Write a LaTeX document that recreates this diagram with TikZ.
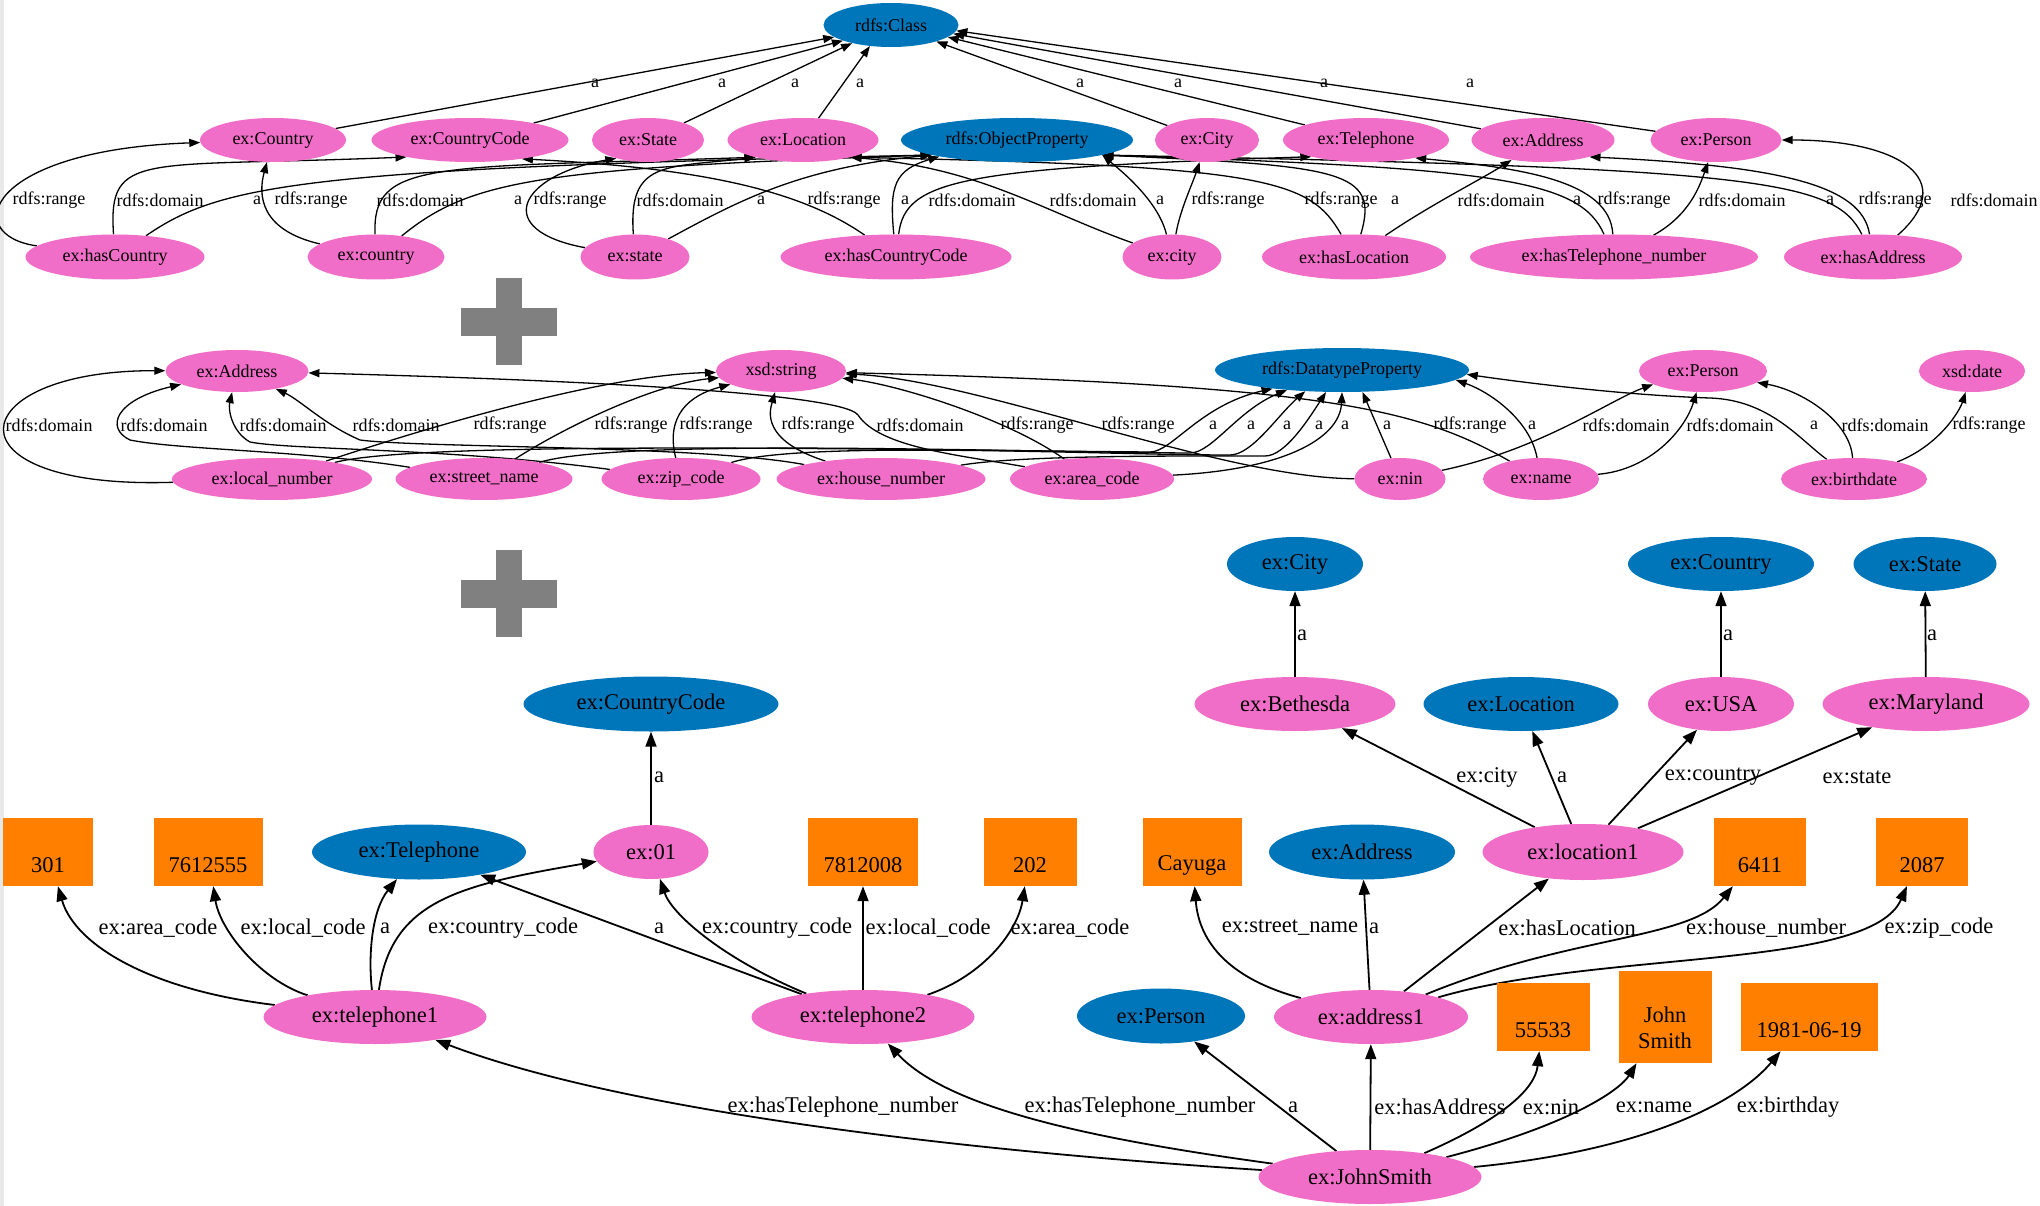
\documentclass[tikz,border=0pt]{standalone}
\usepackage{fontspec}
\setmainfont{Liberation Serif}
\usetikzlibrary{shapes.geometric,arrows.meta}
\definecolor{pinkc}{HTML}{F06EC8}
\definecolor{bluec}{HTML}{0076BA}
\definecolor{orangec}{HTML}{FF7F00}
\definecolor{plusc}{HTML}{808080}
\pgfdeclarelayer{bg}
\pgfdeclarelayer{edges}
\pgfsetlayers{bg,edges,main}
% literal values sit a little below the middle of their boxes
\newcommand{\boxlow}[1]{\raisebox{-13pt}[\height][\depth]{#1}}
\tikzset{
  fs/.style={font=\fontsize{18}{21}\selectfont},
  fl/.style={font=\fontsize{22.5}{26}\selectfont},
  pk/.style={ellipse, fill=pinkc, inner sep=0pt},
  bu/.style={ellipse, fill=bluec, inner sep=0pt},
  lit/.style={rectangle, fill=orangec, inner sep=0pt, minimum height=68},
  eT/.style={draw, line width=1.3pt, -{Triangle[length=11pt,width=8pt]}},
  eB/.style={draw, line width=1.8pt, -{Triangle[length=15pt,width=11pt]}},
  lbT/.style={fs, inner sep=0pt},
  lbB/.style={fl, inner sep=0pt},
}
\begin{document}
\begin{tikzpicture}[x=1pt,y=-1pt]
\useasboundingbox (0,0) rectangle (2040,1206);
\begin{pgfonlayer}{bg}
  \fill[white] (0,0) rectangle (2040,1206);
  \fill[gray!18] (0,0) rectangle (4,1206);
  % the two plus signs between the three graphs
  \fill[plusc] (496,278) rectangle (522,365);
  \fill[plusc] (461,308) rectangle (557,336);
  \fill[plusc] (496,550) rectangle (522,637);
  \fill[plusc] (461,580) rectangle (557,608);
\end{pgfonlayer}

% ---------------- object property schema ----------------
\node[bu,fs,minimum width=135,minimum height=44] (tClass) at (891,25) {rdfs:Class};
\node[pk,fs,minimum width=146,minimum height=44] (tCountry) at (273,140) {ex:Country};
\node[pk,fs,minimum width=197,minimum height=44] (tCountryCode) at (470,140) {ex:CountryCode};
\node[pk,fs,minimum width=112,minimum height=44] (tState) at (648,140) {ex:State};
\node[pk,fs,minimum width=151,minimum height=44] (tLocation) at (803,140) {ex:Location};
\node[bu,fs,minimum width=232,minimum height=44] (tOP) at (1017,140) {rdfs:ObjectProperty};
\node[pk,fs,minimum width=104,minimum height=44] (tCity) at (1207,140) {ex:City};
\node[pk,fs,minimum width=166,minimum height=44] (tTelephone) at (1366,140) {ex:Telephone};
\node[pk,fs,minimum width=143,minimum height=44] (tAddress) at (1543,140) {ex:Address};
\node[pk,fs,minimum width=131,minimum height=44] (tPerson) at (1716,140) {ex:Person};

\node[pk,fs,minimum width=179,minimum height=45] (nHasCountry) at (115,257) {ex:hasCountry};
\node[pk,fs,minimum width=137,minimum height=45] (nCountry) at (376,257) {ex:country};
\node[pk,fs,minimum width=109,minimum height=45] (nState) at (635,257) {ex:state};
\node[pk,fs,minimum width=231,minimum height=45] (nHasCountryCode) at (896,257) {ex:hasCountryCode};
\node[pk,fs,minimum width=99,minimum height=45] (nCity) at (1172,257) {ex:city};
\node[pk,fs,minimum width=184,minimum height=45] (nHasLocation) at (1354,257) {ex:hasLocation};
\node[pk,fs,minimum width=288,minimum height=45] (nHasTel) at (1614,257) {ex:hasTelephone\_number};
\node[pk,fs,minimum width=178,minimum height=45] (nHasAddress) at (1873,257) {ex:hasAddress};

% ---------------- datatype property schema ----------------
\node[pk,fs,minimum width=143,minimum height=42] (mAddress) at (237,371) {ex:Address};
\node[pk,fs,minimum width=130,minimum height=42] (mString) at (781,371) {xsd:string};
\node[bu,fs,minimum width=254,minimum height=44] (mDP) at (1342,370) {rdfs:DatatypeProperty};
\node[pk,fs,minimum width=128,minimum height=42] (mPerson) at (1703,371) {ex:Person};
\node[pk,fs,minimum width=106,minimum height=42] (mDate) at (1972,371) {xsd:date};
\node[pk,fs,minimum width=200,minimum height=42] (mLocal) at (272,479) {ex:local\_number};
\node[pk,fs,minimum width=177,minimum height=42] (mStreet) at (484,479) {ex:street\_name};
\node[pk,fs,minimum width=159,minimum height=42] (mZip) at (681,479) {ex:zip\_code};
\node[pk,fs,minimum width=209,minimum height=42] (mHouse) at (881,479) {ex:house\_number};
\node[pk,fs,minimum width=164,minimum height=42] (mArea) at (1092,479) {ex:area\_code};
\node[pk,fs,minimum width=91,minimum height=42] (mNin) at (1400,479) {ex:nin};
\node[pk,fs,minimum width=116,minimum height=42] (mName) at (1541,479) {ex:name};
\node[pk,fs,minimum width=146,minimum height=42] (mBirth) at (1854,479) {ex:birthdate};

% ---------------- instance data ----------------
\node[bu,fl,minimum width=255,minimum height=55] (bCountryCode) at (651,704) {ex:CountryCode};
\node[bu,fl,minimum width=136,minimum height=54] (bCity) at (1295,564) {ex:City};
\node[bu,fl,minimum width=186,minimum height=54] (bCountry) at (1721,564) {ex:Country};
\node[bu,fl,minimum width=143,minimum height=54] (bState) at (1925,564) {ex:State};
\node[pk,fl,minimum width=201,minimum height=54] (bBethesda) at (1295,704) {ex:Bethesda};
\node[bu,fl,minimum width=195,minimum height=54] (bLocation) at (1521,704) {ex:Location};
\node[pk,fl,minimum width=146,minimum height=54] (bUSA) at (1721,704) {ex:USA};
\node[pk,fl,minimum width=207,minimum height=54] (bMaryland) at (1926,704) {ex:Maryland};
\node[pk,fl,minimum width=201,minimum height=56] (bLoc1) at (1583,852) {ex:location1};
\node[lit,fl,minimum width=90] (v301) at (48,852) {\boxlow{301}};
\node[lit,fl,minimum width=109] (v7612555) at (208,852) {\boxlow{7612555}};
\node[bu,fl,minimum width=214,minimum height=55] (bTelephone) at (419,852) {ex:Telephone};
\node[pk,fl,minimum width=115,minimum height=54] (ex01) at (651,852) {ex:01};
\node[lit,fl,minimum width=110] (v7812008) at (863,852) {\boxlow{7812008}};
\node[lit,fl,minimum width=93] (v202) at (1030,852) {\boxlow{202}};
\node[lit,fl,minimum width=99] (vCayuga) at (1192,852) {\boxlow{Cayuga}};
\node[bu,fl,minimum width=186,minimum height=55] (bAddress) at (1362,852) {ex:Address};
\node[lit,fl,minimum width=92] (v6411) at (1760,852) {\boxlow{6411}};
\node[lit,fl,minimum width=92] (v2087) at (1922,852) {\boxlow{2087}};
\node[pk,fl,minimum width=223,minimum height=54] (tel1) at (375,1017) {ex:telephone1};
\node[pk,fl,minimum width=223,minimum height=54] (tel2) at (863,1017) {ex:telephone2};
\node[bu,fl,minimum width=168,minimum height=55] (bPerson) at (1161,1016) {ex:Person};
\node[pk,fl,minimum width=194,minimum height=54] (addr1) at (1371,1017) {ex:address1};
\node[lit,fl,minimum width=93] (v55533) at (1543,1017) {\boxlow{55533}};
\node[lit,fl,minimum width=93,minimum height=92] (vJohnSmith) at (1665,1017) {\boxlow{\begin{tabular}{@{}c@{}}John\\Smith\end{tabular}}};
\node[lit,fl,minimum width=137] (v1981) at (1809,1017) {\boxlow{1981-06-19}};
\node[pk,fl,minimum width=223,minimum height=54] (js) at (1370,1177) {ex:JohnSmith};

\begin{pgfonlayer}{edges}
% classes
\draw[eT] (tCountry) -- (tClass.192) node[lbT] at (595,83) {a};
\draw[eT] (tCountryCode) -- (tClass.198) node[lbT] at (722,83) {a};
\draw[eT] (tState) -- (tClass.205) node[lbT] at (795,83) {a};
\draw[eT] (tLocation) -- (tClass.225) node[lbT] at (860,83) {a};
\draw[eT] (tCity) -- (tClass.-20) node[lbT] at (1080,83) {a};
\draw[eT] (tTelephone) -- (tClass.-12) node[lbT] at (1178,83) {a};
\draw[eT] (tAddress) -- (tClass.-8) node[lbT] at (1324,83) {a};
\draw[eT] (tPerson) -- (tClass.-5) node[lbT] at (1470,83) {a};
% object properties
\draw[eT] (nHasCountry) .. controls (-40,235) and (-15,150) .. (tCountry) node[lbT] at (49,200) {rdfs:range};
\draw[eT] (nHasCountry) .. controls (108,150) and (140,168) .. (tCountryCode.195) node[lbT] at (160,200) {rdfs:domain};
\draw[eT] (nHasCountry) .. controls (220,185) and (300,168) .. (tOP.190) node[lbT] at (257,200) {a};
\draw[eT] (nCountry) .. controls (260,230) and (258,195) .. (tCountry) node[lbT] at (311,200) {rdfs:range};
\draw[eT] (nCountry) .. controls (372,160) and (430,168) .. (tLocation.200) node[lbT] at (420,200) {rdfs:domain};
\draw[eT] (nCountry) .. controls (470,180) and (540,168) .. (tOP.190) node[lbT] at (518,200) {a};
\draw[eT] (nState) .. controls (490,230) and (520,175) .. (tState.210) node[lbT] at (570,200) {rdfs:range};
\draw[eT] (nState) .. controls (628,160) and (665,168) .. (tLocation.200) node[lbT] at (680,200) {rdfs:domain};
\draw[eT] (nState) .. controls (740,200) and (800,168) .. (tOP.190) node[lbT] at (761,200) {a};
\draw[eT] (nHasCountryCode) .. controls (800,190) and (700,168) .. (tCountryCode.-20) node[lbT] at (844,200) {rdfs:range};
\draw[eT] (nHasCountryCode) .. controls (889,185) and (895,170) .. (tOP.192) node[lbT] at (905,200) {a};
\draw[eT] (nHasCountryCode) .. controls (905,180) and (960,168) .. (tTelephone.197) node[lbT] at (972,200) {rdfs:domain};
\draw[eT] (nCity) .. controls (1040,210) and (980,168) .. (tLocation.-20) node[lbT] at (1093,200) {rdfs:domain};
\draw[eT] (nCity) .. controls (1158,200) and (1120,170) .. (tOP.-10) node[lbT] at (1160,200) {a};
\draw[eT] (nCity) .. controls (1180,210) and (1192,185) .. (tCity) node[lbT] at (1228,200) {rdfs:range};
\draw[eT] (nHasLocation) .. controls (1310,180) and (1270,166) .. (tLocation.-20) node[lbT] at (1341,200) {rdfs:range};
\draw[eT] (nHasLocation) .. controls (1380,170) and (1340,166) .. (tOP.-10) node[lbT] at (1395,200) {a};
\draw[eT] (nHasLocation) .. controls (1430,205) and (1480,180) .. (tAddress) node[lbT] at (1501,200) {rdfs:domain};
\draw[eT] (nHasTel) .. controls (1580,180) and (1500,168) .. (tOP.-10) node[lbT] at (1577,200) {a};
\draw[eT] (nHasTel) .. controls (1610,180) and (1520,168) .. (tTelephone.-20) node[lbT] at (1634,200) {rdfs:range};
\draw[eT] (nHasTel) .. controls (1690,215) and (1700,185) .. (tPerson) node[lbT] at (1742,200) {rdfs:domain};
\draw[eT] (nHasAddress) .. controls (1835,180) and (1760,168) .. (tOP.-10) node[lbT] at (1830,200) {a};
\draw[eT] (nHasAddress) .. controls (1862,185) and (1780,166) .. (tAddress.-20) node[lbT] at (1895,200) {rdfs:range};
\draw[eT] (nHasAddress) .. controls (1960,180) and (1900,140) .. (tPerson) node[lbT] at (1994,200) {rdfs:domain};

% datatype properties
\draw[eT] (mLocal) .. controls (-60,490) and (-40,370) .. (mAddress) node[lbT] at (49,425) {rdfs:domain};
\draw[eT] (mStreet) .. controls (300,450) and (180,450) .. (130,440) .. controls (105,428) and (115,400) .. (mAddress) node[lbT] at (164,425) {rdfs:domain};
\draw[eT] (mZip) .. controls (450,448) and (290,450) .. (250,442) .. controls (232,432) and (228,410) .. (mAddress) node[lbT] at (283,425) {rdfs:domain};
\draw[eT] (mHouse) .. controls (700,445) and (420,448) .. (360,440) .. controls (325,425) and (300,400) .. (mAddress) node[lbT] at (396,425) {rdfs:domain};
\draw[eT] (mArea) .. controls (960,455) and (880,448) .. (858,415) .. controls (840,390) and (500,378) .. (mAddress) node[lbT] at (920,425) {rdfs:domain};
\draw[eT] (mLocal) .. controls (420,430) and (600,375) .. (mString) node[lbT] at (510,425) {rdfs:range};
\draw[eT] (mStreet) .. controls (560,430) and (650,385) .. (mString) node[lbT] at (631,425) {rdfs:range};
\draw[eT] (mZip) .. controls (665,415) and (690,395) .. (mString) node[lbT] at (716,425) {rdfs:range};
\draw[eT] (mHouse) .. controls (760,440) and (770,410) .. (mString) node[lbT] at (818,425) {rdfs:range};
\draw[eT] (mArea) .. controls (1010,420) and (900,385) .. (mString) node[lbT] at (1037,425) {rdfs:range};
\draw[eT] (mNin) .. controls (1220,478) and (980,380) .. (mString) node[lbT] at (1138,425) {rdfs:range};
\draw[eT] (mName) .. controls (1420,410) and (1330,385) .. (mString) node[lbT] at (1470,425) {rdfs:range};
\draw[eT] (mLocal) .. controls (420,440) and (900,450) .. (1150,452) .. controls (1172,452) and (1200,405) .. (mDP.195) node[lbT] at (1213,425) {a};
\draw[eT] (mStreet) .. controls (620,438) and (1000,452) .. (1190,453) .. controls (1212,453) and (1238,410) .. (mDP.200) node[lbT] at (1251,425) {a};
\draw[eT] (mZip) .. controls (800,440) and (1100,455) .. (1230,455) .. controls (1252,455) and (1278,415) .. (mDP.210) node[lbT] at (1287,425) {a};
\draw[eT] (mHouse) .. controls (1020,455) and (1180,456) .. (1265,456) .. controls (1285,456) and (1308,420) .. (mDP.234) node[lbT] at (1319,425) {a};
\draw[eT] (mArea) .. controls (1280,470) and (1340,440) .. (mDP.270) node[lbT] at (1345,425) {a};
\draw[eT] (mNin) -- (mDP.313) node[lbT] at (1387,425) {a};
\draw[eT] (mName) .. controls (1530,420) and (1490,392) .. (mDP.-5) node[lbT] at (1532,425) {a};
\draw[eT] (mBirth) .. controls (1800,440) and (1770,400) .. (1710,398) .. controls (1620,395) and (1520,382) .. (mDP.-2) node[lbT] at (1814,425) {a};
\draw[eT] (mNin) .. controls (1540,450) and (1610,400) .. (mPerson.195) node[lbT] at (1626,425) {rdfs:domain};
\draw[eT] (mName) .. controls (1650,470) and (1685,430) .. (mPerson) node[lbT] at (1730,425) {rdfs:domain};
\draw[eT] (mBirth) .. controls (1850,420) and (1800,390) .. (mPerson.-12) node[lbT] at (1885,425) {rdfs:domain};
\draw[eT] (mBirth) .. controls (1940,445) and (1960,410) .. (mDate) node[lbT] at (1989,425) {rdfs:range};

% instance data
\draw[eB] (tel1) .. controls (150,990) and (75,945) .. (v301) node[lbB] at (158,928) {ex:area\_code};
\draw[eB] (tel1) .. controls (260,980) and (220,930) .. (v7612555) node[lbB] at (303,928) {ex:local\_code};
\draw[eB] (tel1) .. controls (368,955) and (372,910) .. (bTelephone) node[lbB] at (385,928) {a};
\draw[eB] (tel1) .. controls (392,900) and (460,885) .. (ex01) node[lbB] at (503,928) {ex:country\_code};
\draw[eB] (tel2) -- (bTelephone) node[lbB] at (659,928) {a};
\draw[eB] (tel2) .. controls (725,960) and (672,915) .. (ex01) node[lbB] at (777,928) {ex:country\_code};
\draw[eB] (tel2) -- (v7812008) node[lbB] at (928,928) {ex:local\_code};
\draw[eB] (tel2) .. controls (985,975) and (1018,930) .. (v202) node[lbB] at (1070,928) {ex:area\_code};
\draw[eB] (ex01) -- (bCountryCode) node[lbB] at (659,777) {a};
\draw[eB] (bBethesda) -- (bCity) node[lbB] at (1302,635) {a};
\draw[eB] (bUSA) -- (bCountry) node[lbB] at (1728,635) {a};
\draw[eB] (bMaryland) -- (bState) node[lbB] at (1932,635) {a};
\draw[eB] (bLoc1) -- (bBethesda) node[lbB] at (1487,777) {ex:city};
\draw[eB] (bLoc1) -- (bLocation) node[lbB] at (1562,777) {a};
\draw[eB] (bLoc1) -- (bUSA) node[lbB] at (1713,777) {ex:country};
\draw[eB] (bLoc1) -- (bMaryland) node[lbB] at (1857,777) {ex:state};
\draw[eB] (addr1) .. controls (1215,975) and (1198,930) .. (vCayuga) node[lbB] at (1290,928) {ex:street\_name};
\draw[eB] (addr1) -- (bAddress) node[lbB] at (1374,928) {a};
\draw[eB] (addr1) -- (bLoc1) node[lbB] at (1567,928) {ex:hasLocation};
\draw[eB] (addr1) .. controls (1570,935) and (1690,940) .. (v6411) node[lbB] at (1766,928) {ex:house\_number};
\draw[eB] (addr1) .. controls (1600,950) and (1870,970) .. (v2087) node[lbB] at (1939,928) {ex:zip\_code};
\draw[eB] (js) .. controls (950,1150) and (620,1110) .. (tel1) node[lbB] at (843,1107) {ex:hasTelephone\_number};
\draw[eB] (js) .. controls (1100,1140) and (950,1110) .. (tel2) node[lbB] at (1140,1107) {ex:hasTelephone\_number};
\draw[eB] (js) -- (bPerson) node[lbB] at (1293,1107) {a};
\draw[eB] (js) -- (addr1) node[lbB] at (1440,1107) {ex:hasAddress};
\draw[eB] (js) .. controls (1500,1120) and (1535,1090) .. (v55533) node[lbB] at (1551,1107) {ex:nin};
\draw[eB] (js) .. controls (1570,1125) and (1620,1090) .. (vJohnSmith) node[lbB] at (1654,1107) {ex:name};
\draw[eB] (js) .. controls (1650,1150) and (1740,1100) .. (v1981) node[lbB] at (1788,1107) {ex:birthday};
\end{pgfonlayer}
\end{tikzpicture}
\end{document}
